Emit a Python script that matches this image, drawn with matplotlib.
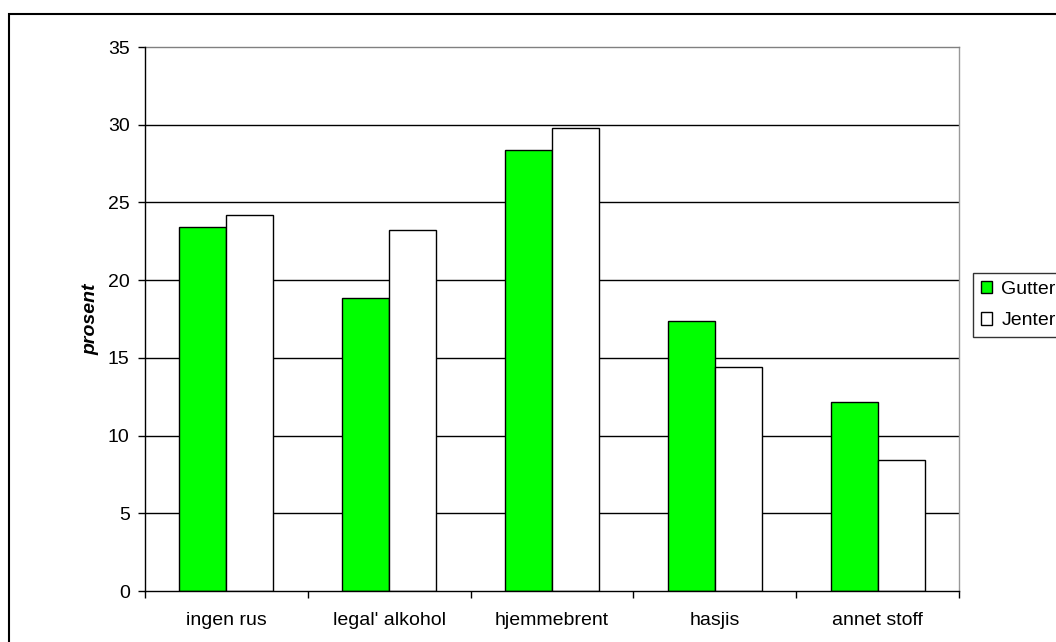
import matplotlib
matplotlib.use("Agg")
import matplotlib.pyplot as plt
from matplotlib.patches import Rectangle
import numpy as np

categories = ["ingen rus", "legal' alkohol", "hjemmebrent", "hasjis", "annet stoff"]
gutter = [23.4, 18.85, 28.4, 17.4, 12.15]
jenter = [24.2, 23.2, 29.8, 14.4, 8.4]
series_names = ["Gutter", "Jenter"]
yticks = [0, 5, 10, 15, 20, 25, 30, 35]

plt.rcParams['font.family'] = ['Liberation Sans', 'DejaVu Sans']
FS = 14

fig = plt.figure(figsize=(10.56, 6.42), dpi=100)
W, H = 1056, 642

# outer chart-area frame
fig.patches.append(Rectangle((8.5 / W, -0.1), 1.2, (H - 13.5) / H + 0.1, transform=fig.transFigure,
                             fill=False, edgecolor='black', linewidth=1.5, zorder=0))

ax = fig.add_axes([145 / W, (H - 591) / H, (959 - 145) / W, (591 - 47) / H])
x = np.arange(len(categories))
bw = 0.289
ax.bar(x - bw / 2, gutter, bw, color='#00ff00', edgecolor='black', linewidth=1.0,
       label=series_names[0], zorder=3)
ax.bar(x + bw / 2, jenter, bw, color='white', edgecolor='black', linewidth=1.0,
       label=series_names[1], zorder=3)

ax.set_xlim(-0.5, len(categories) - 0.5)
ax.set_ylim(0, 35)
ax.set_yticks(yticks)
ax.set_yticklabels([str(v) for v in yticks], fontsize=FS)
ax.set_xticks(x)
ax.set_xticklabels(categories, fontsize=FS)
ax.tick_params(axis='x', length=0, pad=15)
ax.set_xticks(np.arange(-0.5, len(categories)), minor=True)
ax.tick_params(axis='x', which='minor', length=5, width=1, color='black', direction='out')
ax.tick_params(axis='y', length=5, width=1, direction='out', pad=6)

for v in yticks[1:-1]:
    ax.axhline(v, color='black', linewidth=1.0, zorder=1)

ax.spines['left'].set_color('black')
ax.spines['bottom'].set_color('black')
ax.spines['top'].set_color('#808080')
ax.spines['right'].set_color('#999999')
for s in ax.spines.values():
    s.set_linewidth(1.0)
ax.spines['left'].set_zorder(4)
ax.spines['bottom'].set_zorder(4)

ax.set_ylabel('prosent', fontsize=FS, fontweight='bold', fontstyle='italic', labelpad=6)

leg = ax.legend(loc='upper left', bbox_to_anchor=(973 / W, (H - 273) / H),
                bbox_transform=fig.transFigure, frameon=True, fancybox=False,
                fontsize=FS, handlelength=0.6, handleheight=0.6, handletextpad=0.45,
                borderpad=0.4, labelspacing=0.75, borderaxespad=0)
leg.get_frame().set_edgecolor('black')
leg.get_frame().set_linewidth(1.0)

fig.savefig('out.png', dpi=100)
